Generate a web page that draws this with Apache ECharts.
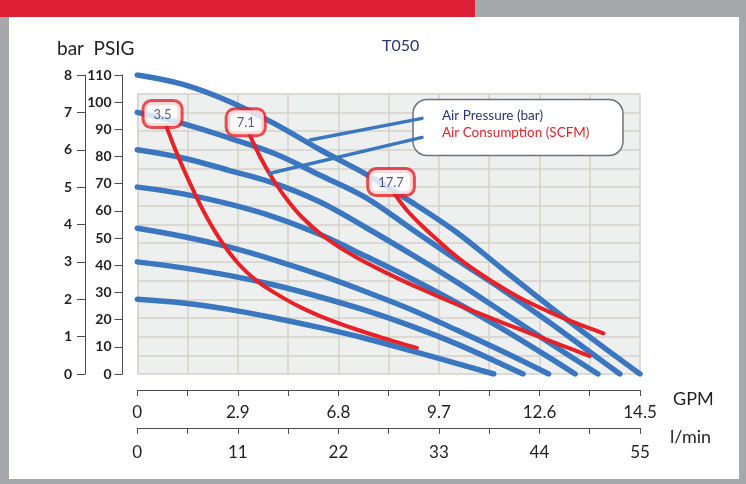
<!DOCTYPE html>
<html>
<head>
<meta charset="utf-8">
<script src="https://cdn.jsdelivr.net/npm/echarts@6/dist/echarts.min.js"></script>
<style>
html,body{margin:0;padding:0;background:#a7a8ab;}
#chart{width:746px;height:484px;}
</style>
</head>
<body>
<div id="chart"></div>
<script>
// ---- data (x in l/min, y in bar) ----
const gpmLabels = ['0', '2.9', '6.8', '9.7', '12.6', '14.5'];
const lpmLabels = ['0', '11', '22', '33', '44', '55'];
const consumptionValues = ['3.5', '7.1', '17.7'];

const p8 = [[0,8.0],[5,7.75],[10,7.3],[15,6.7],[20,6.0],[25,5.35],[30,4.6],[35,3.78],[40,2.8],[45,1.83],[50,0.9],[55,0]];
const p7 = [[0,7.0],[5,6.7],[10,6.32],[15,5.9],[20,5.32],[25,4.72],[30,3.88],[35,3.05],[40,2.25],[45,1.4],[50,0.5],[52.8,0]];
const p6 = [[0,6.0],[5,5.78],[10,5.45],[15,5.1],[20,4.6],[25,3.92],[30,3.2],[35,2.45],[40,1.65],[45,0.85],[50.4,0]];
const p5 = [[0,5.0],[5,4.82],[10,4.55],[15,4.2],[20,3.73],[25,3.15],[30,2.55],[35,1.9],[40,1.2],[45,0.45],[47.9,0]];
const p4 = [[0,3.9],[5,3.68],[10,3.4],[15,3.05],[20,2.65],[25,2.2],[30,1.72],[35,1.17],[40,0.6],[45,0]];
const p3 = [[0,3.0],[5,2.84],[10,2.64],[15,2.38],[20,2.06],[25,1.7],[30,1.28],[35,0.8],[40,0.25],[42.2,0]];
const p2 = [[0,2.0],[5,1.9],[10,1.73],[15,1.5],[20,1.24],[25,0.95],[30,0.62],[35,0.28],[39,0]];

const scfm35 = [[3.2,6.62],[4,6.1],[5,5.52],[6,4.98],[7,4.47],[8,4.02],[9,3.62],[10,3.27],[11,2.97],[12,2.72],[13,2.51],[14,2.33],[16,2.03],[18,1.77],[20,1.55],[22.9,1.28],[25.5,1.07],[28,0.88],[30.6,0.7]];
const scfm71 = [[12.3,6.4],[13.5,5.78],[15,5.15],[16.5,4.63],[18,4.2],[20,3.76],[22,3.41],[24,3.12],[26,2.86],[28.5,2.56],[31,2.28],[34,1.96],[37,1.66],[40,1.37],[43.5,1.04],[46.5,0.76],[49.5,0.48]];
const scfm177 = [[28.2,4.8],[29.5,4.38],[31,4.0],[33,3.55],[35,3.13],[37,2.77],[39,2.45],[42,2.02],[45,1.67],[48,1.36],[51,1.09]];

const leader1 = [[18.9,6.26],[31.15,6.84]];
const leader2 = [[14.52,5.37],[31.15,6.33]];

// ---- styles ----
const FONT = 'Lato, "Liberation Sans", sans-serif';
const BLUE = '#3a77c0';
const RED = '#ea2027';
const NAVY = '#2b3576';
const INK = '#231f20';
const AXIS = '#4d4d4f';

const pressureCurves = [p8, p7, p6, p5, p4, p3, p2];
const redCurves = [scfm35, scfm71, scfm177];

const series = [];
pressureCurves.forEach(c => series.push({
  type: 'line', xAxisIndex: 1, yAxisIndex: 1, data: c, smooth: 0.35,
  showSymbol: false, symbol: 'none', z: 3,
  lineStyle: { color: BLUE, width: 5.5, cap: 'round' }, silent: true
}));
[leader1, leader2].forEach(c => series.push({
  type: 'line', xAxisIndex: 1, yAxisIndex: 1, data: c, showSymbol: false, symbol: 'none', z: 6,
  lineStyle: { color: BLUE, width: 3.5, cap: 'round' }, silent: true
}));
redCurves.forEach(c => series.push({
  type: 'line', xAxisIndex: 1, yAxisIndex: 1, data: c, smooth: 0.35,
  showSymbol: false, symbol: 'none', z: 4,
  lineStyle: { color: RED, width: 4, cap: 'round' }, silent: true
}));
series.push({
  type: 'scatter', xAxisIndex: 1, yAxisIndex: 1, z: 10, silent: true,
  symbolSize: 1, itemStyle: { color: 'rgba(0,0,0,0)' },
  data: redCurves.map((c, i) => ({ value: c[0], name: consumptionValues[i] })),
  label: {
    show: true, position: 'top', distance: 0, offset: [-4, 0],
    formatter: p => p.name,
    color: NAVY, fontFamily: FONT, fontSize: 13,
    backgroundColor: '#fff', borderColor: RED, borderWidth: 3, borderRadius: 7,
    padding: [6, 9, 5, 9]
  }
});

const chart = echarts.init(document.getElementById('chart'), null, { renderer: 'canvas' });
chart.setOption({
  backgroundColor: '#a7a8ab',
  animation: false,
  textStyle: { fontFamily: FONT },
  title: {
    text: 'T050', left: 377, top: 33,
    textStyle: { color: NAVY, fontSize: 16, fontWeight: 'normal', fontFamily: FONT }
  },
  graphic: [
    { type: 'rect', z: -10, silent: true, shape: { x: 0, y: 0, width: 475, height: 17 }, style: { fill: '#dc1f35' } },
    { type: 'rect', z: -10, silent: true, shape: { x: 9, y: 17, width: 730, height: 462 }, style: { fill: '#ffffff' } },
    { type: 'rect', z: 5, silent: true, shape: { x: 413, y: 99.5, width: 210, height: 56, r: 14 },
      style: { fill: '#ffffff', stroke: '#6b7280', lineWidth: 1.5 } },
    { type: 'text', z: 7, silent: true, style: { x: 442, y: 116, text: 'Air Pressure (bar)', fill: NAVY,
      font: '13.5px ' + FONT, verticalAlign: 'middle' } },
    { type: 'text', z: 7, silent: true, style: { x: 442, y: 133, text: 'Air Consumption (SCFM)', fill: RED,
      font: '13.5px ' + FONT, verticalAlign: 'middle' } }
  ],
  grid: [
    { left: 137.3, right: 106, top: 93.7, bottom: 110, show: true, backgroundColor: '#eef0f0', borderWidth: 0, z: 0 },
    { left: 137.3, right: 106, top: 75, bottom: 110 }
  ],
  xAxis: [
    { gridIndex: 0, type: 'value', min: 0, max: 55, interval: 5.5,
      axisLine: { show: false }, axisTick: { show: false }, axisLabel: { show: false },
      splitLine: { show: true, lineStyle: { color: '#d6d2c9', width: 1.5 } } },
    { gridIndex: 1, type: 'value', min: 0, max: 55, interval: 5.5, position: 'bottom', offset: 16,
      name: 'GPM', nameLocation: 'end', nameGap: 33,
      nameTextStyle: { color: INK, fontSize: 18, fontFamily: FONT, verticalAlign: 'top' },
      axisLine: { show: true, onZero: false, lineStyle: { color: AXIS, width: 1 } },
      axisTick: { show: true, length: 6, lineStyle: { color: AXIS } },
      splitLine: { show: false },
      axisLabel: { color: INK, fontSize: 17, fontFamily: FONT, margin: 14, showMinLabel: true, showMaxLabel: true,
        formatter: v => { const i = Math.round(v / 5.5); return i % 2 === 0 ? gpmLabels[i / 2] : ''; } } },
    { gridIndex: 1, type: 'value', min: 0, max: 55, interval: 5.5, position: 'bottom', offset: 54,
      name: 'l/min', nameLocation: 'end', nameGap: 30,
      nameTextStyle: { color: INK, fontSize: 18, fontFamily: FONT, verticalAlign: 'top' },
      axisLine: { show: true, onZero: false, lineStyle: { color: AXIS, width: 1 } },
      axisTick: { show: true, length: 6, lineStyle: { color: AXIS } },
      splitLine: { show: false },
      axisLabel: { color: INK, fontSize: 17, fontFamily: FONT, margin: 16, showMinLabel: true, showMaxLabel: true,
        formatter: v => { const i = Math.round(v / 5.5); return i % 2 === 0 ? lpmLabels[i / 2] : ''; } } }
  ],
  yAxis: [
    { gridIndex: 0, type: 'value', min: 0, max: 7.5, interval: 0.5,
      axisLine: { show: false }, axisTick: { show: false }, axisLabel: { show: false },
      splitLine: { show: true, lineStyle: { color: '#d6d2c9', width: 1.5 } } },
    { gridIndex: 1, type: 'value', min: 0, max: 8, interval: 1, position: 'left', offset: 52.3,
      name: 'bar', nameLocation: 'end', nameGap: 17,
      nameTextStyle: { color: INK, fontSize: 19, fontFamily: FONT, align: 'center', padding: [0, 29, 0, 0] },
      axisLine: { show: true, onZero: false, lineStyle: { color: AXIS, width: 1 } },
      axisTick: { show: true, length: 8, lineStyle: { color: AXIS } },
      splitLine: { show: false },
      axisLabel: { color: INK, fontSize: 14, fontFamily: FONT, fontWeight: 'bold', margin: 13, showMinLabel: true, showMaxLabel: true } },
    { gridIndex: 1, type: 'value', min: 0, max: 110, interval: 10, position: 'left', offset: 14.8,
      name: 'PSIG', nameLocation: 'end', nameGap: 17,
      nameTextStyle: { color: INK, fontSize: 19, fontFamily: FONT, align: 'center', padding: [0, 17, 0, 0] },
      axisLine: { show: true, onZero: false, lineStyle: { color: AXIS, width: 1 } },
      axisTick: { show: true, length: 8, lineStyle: { color: AXIS } },
      splitLine: { show: false },
      axisLabel: { color: INK, fontSize: 14, fontFamily: FONT, fontWeight: 'bold', margin: 11, showMinLabel: true, showMaxLabel: true } }
  ],
  series: series
});
</script>
</body>
</html>
